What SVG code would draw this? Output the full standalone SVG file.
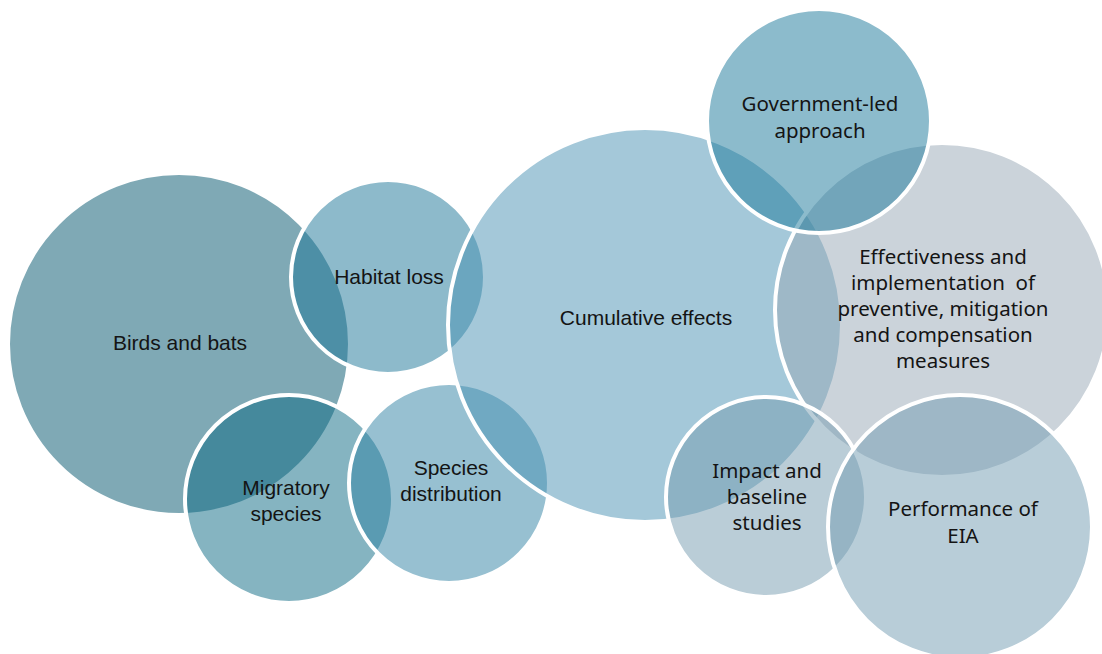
<svg xmlns="http://www.w3.org/2000/svg" width="1102" height="654" viewBox="0 0 1102 654">
<style>
.c{stroke:#ffffff;stroke-width:4;fill-opacity:0.5}
.t{font-family:"Liberation Sans",Arial,sans-serif;font-size:21px;fill:#141414;text-anchor:middle}
.r{font-family:"Noto Sans","Open Sans",sans-serif;font-size:20.5px;fill:#141414;text-anchor:middle}
</style>
<rect width="1102" height="654" fill="#ffffff"/>
<g id="birds"><circle class="c" cx="179" cy="344" r="171" fill="#00536B" stroke="none"/><text class="t" x="180" y="350">Birds and bats</text></g>
<g id="habitat"><circle class="c" cx="388" cy="277" r="97" fill="#1B7597"/><text class="t" x="389" y="284">Habitat loss</text></g>
<g id="migratory"><circle class="c" cx="289" cy="499" r="104" fill="#0B6983"/><text class="t" x="286" y="495">Migratory</text><text class="t" x="286" y="521">species</text></g>
<g id="species"><circle class="c" cx="449" cy="483" r="100" fill="#2F81A3"/><text class="t" x="451" y="475">Species</text><text class="t" x="451" y="501">distribution</text></g>
<g id="cumulative"><circle class="c" cx="645" cy="325" r="197" fill="#4991B3"/><text class="t" x="646" y="325">Cumulative effects</text></g>
<g id="effectiveness"><circle class="c" cx="942" cy="310" r="167" fill="#97A7B5"/><text class="r" x="943" y="264">Effectiveness and</text><text class="r" x="943" y="290" style="white-space:pre">implementation  of</text><text class="r" x="943" y="316">preventive, mitigation</text><text class="r" x="943" y="342">and compensation</text><text class="r" x="943" y="368">measures</text></g>
<g id="government"><circle class="c" cx="819" cy="121" r="112" fill="#197799"/><text class="r" x="820" y="111">Government-led</text><text class="r" x="820" y="138">approach</text></g>
<g id="impact"><circle class="c" cx="766" cy="497" r="100" fill="#759BAF"/><text class="r" x="767" y="478">Impact and</text><text class="r" x="767" y="504">baseline</text><text class="r" x="767" y="530">studies</text></g>
<g id="performance"><circle class="c" cx="960" cy="527" r="132" fill="#719BB1"/><text class="r" x="963" y="516">Performance of</text><text class="r" x="963" y="543">EIA</text></g>
<g id="connectors"></g>
</svg>
